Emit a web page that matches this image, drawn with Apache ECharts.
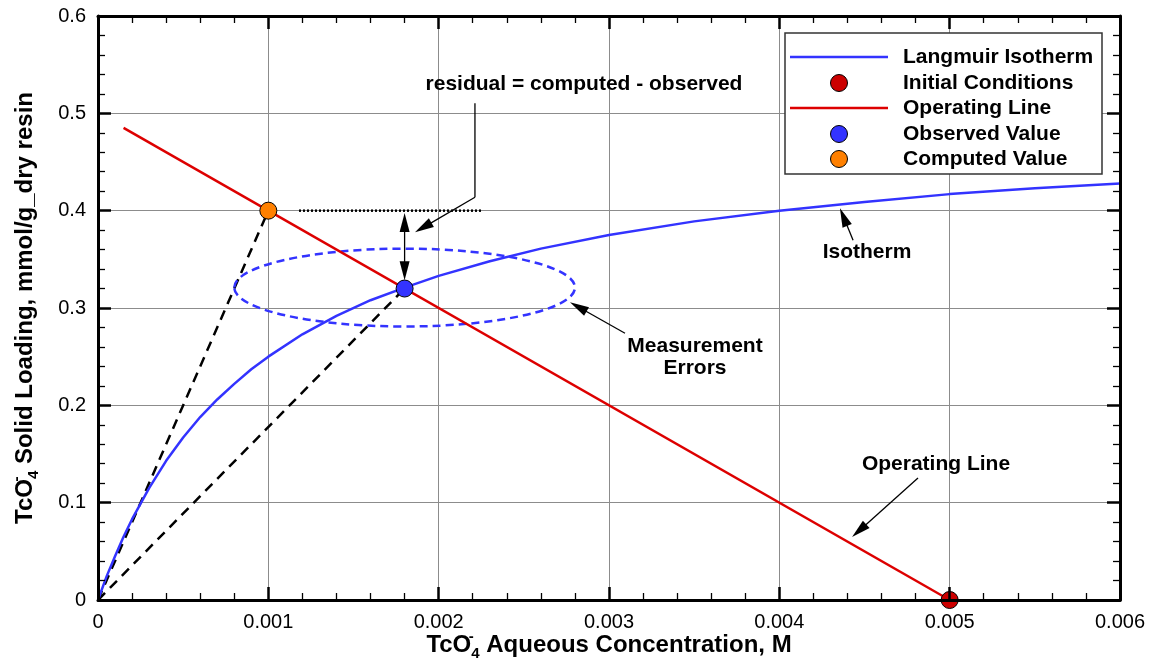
<!DOCTYPE html>
<html>
<head>
<meta charset="utf-8">
<script src="https://cdn.jsdelivr.net/npm/echarts@6/dist/echarts.min.js"></script>
<style>
  html, body { margin: 0; padding: 0; background: #ffffff; }
  #chart { width: 1152px; height: 664px; }
</style>
</head>
<body>
<div id="chart"></div>
<script>
// ---- axis ticks ----
const xTickStep = 0.001;
const yTickStep = 0.1;
const xTickLabels = ['0', '0.001', '0.002', '0.003', '0.004', '0.005', '0.006'];
const yTickLabels = ['0', '0.1', '0.2', '0.3', '0.4', '0.5', '0.6'];

// ---- Langmuir isotherm: aqueous concentration (M) vs solid loading (mmol/g) ----
const isothermC = [0, 0.00005, 0.0001, 0.00015, 0.0002, 0.0003, 0.0004, 0.0005, 0.0006, 0.0007,
                   0.0008, 0.0009, 0.001, 0.0012, 0.0014, 0.0016, 0.0018, 0.002, 0.0023, 0.0026,
                   0.003, 0.0035, 0.004, 0.0045, 0.005, 0.0055, 0.006];
const isothermQ = [0, 0.024, 0.045, 0.065, 0.083, 0.115, 0.143, 0.167, 0.188, 0.206,
                   0.222, 0.237, 0.25, 0.273, 0.292, 0.308, 0.321, 0.333, 0.348, 0.361,
                   0.375, 0.389, 0.4, 0.409, 0.417, 0.423, 0.428];

// ---- operating line ----
const operatingC = [0.00015, 0.005];
const operatingQ = [0.485, 0];

// ---- key points ----
const originPoint   = [0, 0];
const initialPoint  = [0.005, 0];
const observedPoint = [0.0018, 0.32];
const computedPoint = [0.001, 0.4];

// dotted level of the computed loading
const residualLevelC = [0.00118, 0.00226];
const residualLevelQ = 0.4;

// measurement error ellipse: [centre c, centre q, half-width c, half-height q]
const errorEllipse = [0.0018, 0.321, 0.001, 0.04];

// annotation arrows: [from c, from q, to c, to q, heads (0 none, 1 at end, 2 both)]
const annotationArrows = [
  [0.002213, 0.5103, 0.002213, 0.4138, 0],   // residual leader, vertical part
  [0.002213, 0.4138, 0.001861, 0.3778, 1],   // residual leader, pointer
  [0.0018, 0.3975, 0.0018, 0.3285, 2],       // residual span
  [0.003094, 0.2741, 0.002771, 0.3060, 1],   // measurement errors
  [0.004433, 0.3696, 0.004356, 0.4025, 1],   // isotherm
  [0.004814, 0.1253, 0.004427, 0.0647, 1]    // operating line
];

// ---- text ----
const legendLabels = ['Langmuir Isotherm', 'Initial Conditions', 'Operating Line', 'Observed Value', 'Computed Value'];
const residualText = 'residual = computed - observed';
const isothermText = 'Isotherm';
const errorsText = ['Measurement', 'Errors'];
const operatingText = 'Operating Line';

const FONT = "'Liberation Sans', Arial, Helvetica, sans-serif";
const BLUE = '#3333ff';
const RED_LINE = '#dd0000';
const RED_DOT = '#cc0000';
const ORANGE = '#ff8000';

function zip(a, b) { return a.map((v, i) => [v, b[i]]); }

const grid = { left: 98, right: 32, top: 16, bottom: 64, containLabel: false, outerBoundsMode: 'none' };

const range = { x: { min: 0, max: 0.006 }, y: { min: 0, max: 0.6 } };

const nameRich = {
  b:   { fontFamily: FONT, fontSize: 24, fontWeight: 'bold', color: '#000', lineHeight: 32, verticalAlign: 'middle' },
  sup: { fontFamily: FONT, fontSize: 15, fontWeight: 'bold', color: '#000', lineHeight: 15, verticalAlign: 'top', width: 0 },
  sub: { fontFamily: FONT, fontSize: 15, fontWeight: 'bold', color: '#000', lineHeight: 15, verticalAlign: 'bottom' }
};

function frameAxis(extra) {
  return Object.assign({
    type: 'value',
    gridIndex: 1,
    z: 10,
    axisLine: { show: true, onZero: false, lineStyle: { color: '#000', width: 3 } },
    axisTick: { show: true, inside: true, length: 13, lineStyle: { color: '#000', width: 2.5 } },
    minorTick: { show: true, splitNumber: 5, length: 7, lineStyle: { color: '#000', width: 1.3 } },
    splitLine: { show: false },
    axisLabel: { show: false }
  }, extra);
}

function gridAxis(extra) {
  return Object.assign({
    type: 'value',
    gridIndex: 0,
    z: 0,
    axisLine: { show: false },
    axisTick: { show: false },
    axisLabel: { show: false },
    splitLine: { show: true, lineStyle: { color: '#8c8c8c', width: 1 } }
  }, extra);
}

function renderArrow(params, api) {
  const p1 = api.coord([api.value(0), api.value(1)]);
  const p2 = api.coord([api.value(2), api.value(3)]);
  const heads = api.value(4);
  const L = 19, W = 5;
  const dx = p2[0] - p1[0], dy = p2[1] - p1[1];
  const len = Math.sqrt(dx * dx + dy * dy);
  const ux = dx / len, uy = dy / len;
  const head = (tip, vx, vy) => {
    const bx = tip[0] - vx * L, by = tip[1] - vy * L;
    return {
      type: 'polygon',
      shape: { points: [tip, [bx - vy * W, by + vx * W], [bx + vy * W, by - vx * W]] },
      style: { fill: '#000', stroke: null }
    };
  };
  const children = [];
  let s = p1, e = p2;
  if (heads >= 1) { children.push(head(p2, ux, uy)); e = [p2[0] - ux * L * 0.7, p2[1] - uy * L * 0.7]; }
  if (heads >= 2) { children.push(head(p1, -ux, -uy)); s = [p1[0] + ux * L * 0.7, p1[1] + uy * L * 0.7]; }
  children.unshift({
    type: 'line',
    shape: { x1: s[0], y1: s[1], x2: e[0], y2: e[1] },
    style: { stroke: '#000', lineWidth: 1.3, fill: null }
  });
  return { type: 'group', children: children };
}

function renderEllipse(params, api) {
  const c = api.coord([api.value(0), api.value(1)]);
  const s = api.size([api.value(2), api.value(3)]);
  return {
    type: 'ellipse',
    shape: { cx: c[0], cy: c[1], rx: s[0], ry: s[1] },
    style: { fill: null, stroke: BLUE, lineWidth: 2.5, lineDash: [8, 5] }
  };
}

// ---- legend drawn as a framed box of samples ----
const legendBox = { x: 785, y: 33, w: 317, h: 141 };
const legendRowY = [57, 83, 108, 134, 159];
const legendSamples = [
  { kind: 'line', color: BLUE },
  { kind: 'dot', color: RED_DOT },
  { kind: 'line', color: RED_LINE },
  { kind: 'dot', color: BLUE },
  { kind: 'dot', color: ORANGE }
];
const legendGraphics = [{
  type: 'rect', z: 20,
  shape: { x: legendBox.x, y: legendBox.y, width: legendBox.w, height: legendBox.h },
  style: { fill: '#fff', stroke: '#333', lineWidth: 1.5 }
}];
legendLabels.forEach((label, i) => {
  const y = legendRowY[i];
  const smp = legendSamples[i];
  if (smp.kind === 'line') {
    legendGraphics.push({ type: 'line', z: 21, shape: { x1: 790, y1: y, x2: 888, y2: y },
      style: { stroke: smp.color, lineWidth: 2.5 } });
  } else {
    legendGraphics.push({ type: 'circle', z: 21, shape: { cx: 839, cy: y, r: 8.5 },
      style: { fill: smp.color, stroke: '#000', lineWidth: 1 } });
  }
  legendGraphics.push({ type: 'text', z: 21, x: 903, y: y,
    style: { text: label, font: 'bold 21px ' + FONT, fill: '#000', verticalAlign: 'middle', align: 'left' } });
});

function note(text, x, y) {
  return { type: 'text', z: 15, x: x, y: y,
    style: { text: text, font: 'bold 21px ' + FONT, fill: '#000', align: 'center', verticalAlign: 'middle' } };
}

const option = {
  backgroundColor: '#fff',
  animation: false,
  grid: [
    Object.assign({}, grid),
    Object.assign({}, grid)
  ],
  xAxis: [
    gridAxis(Object.assign({ interval: xTickStep }, range.x)),
    frameAxis(Object.assign({
      position: 'bottom', interval: xTickStep,
      axisLabel: {
        show: true, margin: 12, color: '#000', fontFamily: FONT, fontSize: 20,
        formatter: v => xTickLabels[Math.round(v / xTickStep)]
      },
      name: '{b|TcO}{sup|-}{sub|4}{b| Aqueous Concentration, M}',
      nameLocation: 'middle', nameGap: 29, nameMoveOverlap: false,
      nameTextStyle: { rich: nameRich }
    }, range.x)),
    frameAxis(Object.assign({ position: 'top', interval: xTickStep }, range.x))
  ],
  yAxis: [
    gridAxis(Object.assign({ interval: yTickStep }, range.y)),
    frameAxis(Object.assign({
      position: 'left', interval: yTickStep,
      axisLabel: {
        show: true, margin: 12, color: '#000', fontFamily: FONT, fontSize: 20,
        formatter: v => yTickLabels[Math.round(v / yTickStep)]
      },
      name: '{b|TcO}{sup|-}{sub|4}{b| Solid Loading, mmol/g_dry resin}',
      nameLocation: 'middle', nameGap: 57, nameRotate: 90, nameMoveOverlap: false,
      nameTextStyle: { rich: nameRich }
    }, range.y)),
    frameAxis(Object.assign({ position: 'right', interval: yTickStep }, range.y))
  ],
  series: [
    {
      name: 'computed tie', type: 'line', xAxisIndex: 0, yAxisIndex: 0, z: 2,
      data: [originPoint, computedPoint], showSymbol: false, silent: true,
      lineStyle: { color: '#000', width: 2.5, type: [10, 7] }
    },
    {
      name: 'observed tie', type: 'line', xAxisIndex: 0, yAxisIndex: 0, z: 2,
      data: [originPoint, observedPoint], showSymbol: false, silent: true,
      lineStyle: { color: '#000', width: 2.5, type: [10, 7] }
    },
    {
      name: 'error ellipse', type: 'custom', xAxisIndex: 0, yAxisIndex: 0, z: 3,
      renderItem: renderEllipse, data: [errorEllipse], silent: true
    },
    {
      name: legendLabels[0], type: 'line', xAxisIndex: 0, yAxisIndex: 0, z: 4,
      data: zip(isothermC, isothermQ), smooth: false, showSymbol: false,
      lineStyle: { color: BLUE, width: 2.5, join: 'round' }
    },
    {
      name: legendLabels[2], type: 'line', xAxisIndex: 0, yAxisIndex: 0, z: 5,
      data: zip(operatingC, operatingQ), showSymbol: false,
      lineStyle: { color: RED_LINE, width: 2.5 }
    },
    {
      name: 'computed level', type: 'line', xAxisIndex: 0, yAxisIndex: 0, z: 5,
      data: residualLevelC.map(c => [c, residualLevelQ]), showSymbol: false, silent: true,
      lineStyle: { color: '#000', width: 2.5, type: [2, 2] }
    },
    {
      name: 'annotations', type: 'custom', xAxisIndex: 0, yAxisIndex: 0, z: 6,
      renderItem: renderArrow, data: annotationArrows, silent: true
    },
    {
      name: legendLabels[1], type: 'scatter', xAxisIndex: 0, yAxisIndex: 0, z: 7, clip: false,
      data: [initialPoint], symbolSize: 17,
      itemStyle: { color: RED_DOT, borderColor: '#000', borderWidth: 1, opacity: 1 }
    },
    {
      name: legendLabels[3], type: 'scatter', xAxisIndex: 0, yAxisIndex: 0, z: 7, clip: false,
      data: [observedPoint], symbolSize: 17,
      itemStyle: { color: BLUE, borderColor: '#000', borderWidth: 1, opacity: 1 }
    },
    {
      name: legendLabels[4], type: 'scatter', xAxisIndex: 0, yAxisIndex: 0, z: 7, clip: false,
      data: [computedPoint], symbolSize: 17,
      itemStyle: { color: ORANGE, borderColor: '#000', borderWidth: 1, opacity: 1 }
    }
  ],
  graphic: legendGraphics.concat([
    note(residualText, 584, 84),
    note(isothermText, 867, 252),
    note(errorsText[0], 695, 346),
    note(errorsText[1], 695, 368),
    note(operatingText, 936, 464)
  ])
};

const chart = echarts.init(document.getElementById('chart'));
chart.setOption(option);
</script>
</body>
</html>
